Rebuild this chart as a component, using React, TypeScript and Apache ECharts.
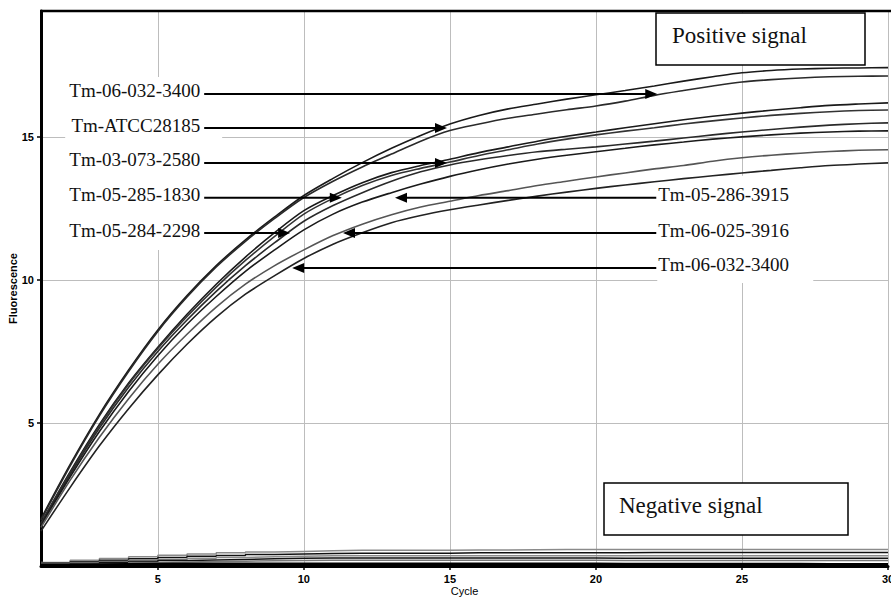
import React, { useEffect, useRef } from 'react';
import * as echarts from 'echarts';

// Cycle numbers (x values)
const cycles = [1, 2, 3, 4, 5, 6, 7, 8, 9, 10, 11, 12, 13, 14, 15, 16, 17, 18, 19, 20, 21, 22, 23, 24, 25, 26, 27, 28, 29, 30];
const xTickValues = [5, 10, 15, 20, 25, 30];
const yTickValues = [5, 10, 15];

// Positive signal curves (fluorescence per cycle)
const posA = [1.65, 3.55, 5.3, 6.85, 8.25, 9.45, 10.5, 11.4, 12.2, 12.95, 13.55, 14.1, 14.6, 15.05, 15.45, 15.75, 15.98, 16.15, 16.32, 16.47, 16.62, 16.78, 16.95, 17.1, 17.24, 17.32, 17.37, 17.4, 17.41, 17.42];
const posB = [1.6, 3.5, 5.25, 6.8, 8.2, 9.4, 10.45, 11.35, 12.15, 12.88, 13.45, 13.95, 14.4, 14.85, 15.22, 15.45, 15.65, 15.8, 15.95, 16.08, 16.25, 16.45, 16.62, 16.78, 16.92, 17.0, 17.06, 17.1, 17.12, 17.13];
const posC = [1.5, 3.3, 4.95, 6.4, 7.65, 8.8, 9.85, 10.8, 11.65, 12.42, 12.95, 13.4, 13.75, 14.0, 14.22, 14.45, 14.65, 14.85, 15.02, 15.17, 15.32, 15.46, 15.6, 15.72, 15.83, 15.93, 16.02, 16.1, 16.15, 16.19];
const posD = [1.48, 3.25, 4.9, 6.35, 7.6, 8.72, 9.75, 10.68, 11.52, 12.3, 12.85, 13.3, 13.65, 13.9, 14.12, 14.35, 14.55, 14.75, 14.92, 15.07, 15.2, 15.32, 15.45, 15.56, 15.66, 15.75, 15.82, 15.88, 15.92, 15.94];
const posE = [1.45, 3.2, 4.82, 6.25, 7.5, 8.6, 9.6, 10.5, 11.3, 12.05, 12.6, 13.05, 13.45, 13.78, 14.02, 14.2, 14.35, 14.48, 14.57, 14.65, 14.75, 14.85, 14.96, 15.07, 15.17, 15.26, 15.34, 15.41, 15.46, 15.49];
const posF = [1.42, 3.12, 4.7, 6.1, 7.35, 8.45, 9.42, 10.3, 11.05, 11.75, 12.3, 12.72, 13.05, 13.35, 13.62, 13.85, 14.05, 14.22, 14.36, 14.48, 14.6, 14.72, 14.82, 14.92, 15.0, 15.07, 15.13, 15.17, 15.2, 15.21];
const posG = [1.35, 3.0, 4.5, 5.85, 7.05, 8.1, 9.05, 9.85, 10.5, 11.05, 11.55, 11.95, 12.28, 12.55, 12.75, 12.95, 13.12, 13.3, 13.45, 13.6, 13.74, 13.88, 14.0, 14.15, 14.27, 14.36, 14.43, 14.49, 14.53, 14.55];
const posH = [1.22, 2.75, 4.2, 5.5, 6.68, 7.75, 8.7, 9.5, 10.15, 10.75, 11.25, 11.65, 12.0, 12.25, 12.45, 12.62, 12.78, 12.93, 13.07, 13.2, 13.32, 13.43, 13.54, 13.64, 13.74, 13.83, 13.92, 14.0, 14.05, 14.09];

// Negative signal curves
const negA = [0.12, 0.2, 0.26, 0.32, 0.38, 0.42, 0.46, 0.49, 0.51, 0.53, 0.55, 0.55, 0.55, 0.55, 0.56, 0.56, 0.57, 0.58, 0.58, 0.58, 0.58, 0.58, 0.58, 0.58, 0.58, 0.58, 0.58, 0.58, 0.58, 0.58];
const negB = [0.1, 0.15, 0.2, 0.25, 0.3, 0.34, 0.37, 0.4, 0.42, 0.44, 0.45, 0.45, 0.45, 0.45, 0.46, 0.46, 0.46, 0.46, 0.46, 0.46, 0.47, 0.47, 0.47, 0.47, 0.47, 0.47, 0.47, 0.47, 0.47, 0.47];
const negC = [0.08, 0.12, 0.16, 0.2, 0.23, 0.27, 0.3, 0.32, 0.34, 0.36, 0.36, 0.36, 0.36, 0.36, 0.36, 0.36, 0.36, 0.36, 0.36, 0.36, 0.36, 0.36, 0.36, 0.36, 0.36, 0.36, 0.36, 0.36, 0.36, 0.36];
const negD = [0.06, 0.09, 0.12, 0.16, 0.19, 0.21, 0.23, 0.25, 0.27, 0.28, 0.28, 0.28, 0.28, 0.28, 0.28, 0.28, 0.28, 0.28, 0.28, 0.27, 0.27, 0.27, 0.27, 0.27, 0.27, 0.27, 0.27, 0.27, 0.27, 0.27];
const negE = [0.05, 0.07, 0.09, 0.12, 0.14, 0.16, 0.17, 0.18, 0.19, 0.2, 0.2, 0.2, 0.2, 0.2, 0.2, 0.2, 0.2, 0.2, 0.2, 0.19, 0.19, 0.19, 0.19, 0.19, 0.19, 0.19, 0.19, 0.19, 0.19, 0.19];
const negF = [0.03, 0.04, 0.05, 0.06, 0.07, 0.07, 0.07, 0.07, 0.07, 0.07, 0.07, 0.07, 0.07, 0.07, 0.07, 0.07, 0.07, 0.07, 0.07, 0.06, 0.06, 0.06, 0.06, 0.06, 0.06, 0.06, 0.05, 0.05, 0.05, 0.05];

const positiveSeries = [posA, posB, posC, posD, posE, posF, posG, posH];
const positiveColors = ['#1a1a1a', '#2a2a2a', '#1a1a1a', '#333333', '#2a2a2a', '#1a1a1a', '#555555', '#222222'];
const negativeSeries = [negA, negB, negC, negD, negE, negF];
const negativeColors = ['#8a8a8a', '#111111', '#8a8a8a', '#111111', '#777777', '#000000'];
const negativeWidths = [1.5, 1.5, 1.5, 1.5, 1.5, 3];

// Annotations: label, arrow y (fluorescence), arrow tip (cycle)
const leftLabels = ['Tm-06-032-3400', 'Tm-ATCC28185', 'Tm-03-073-2580', 'Tm-05-285-1830', 'Tm-05-284-2298'];
const leftArrowY = [16.5, 15.31, 14.09, 12.87, 11.64];
const leftArrowTip = [22.1, 14.9, 14.9, 11.3, 9.53];
const rightLabels = ['Tm-05-286-3915', 'Tm-06-025-3916', 'Tm-06-032-3400'];
const rightArrowY = [12.87, 11.64, 10.42];
const rightArrowTip = [13.12, 11.34, 9.6];
const leftTextEndCycle = 6.45;
const rightTextStartCycle = 22.1;

const SERIF = '"Liberation Serif", "Times New Roman", serif';
const SANS = '"Liberation Sans", Arial, sans-serif';

export default function App() {
  const ref = useRef<HTMLDivElement>(null);

  useEffect(() => {
    document.body.style.margin = '0';
    if (!ref.current) return;
    const chart = echarts.init(ref.current, null, { renderer: 'svg' });

    const series: any[] = [];
    negativeSeries.forEach((vals, i) => {
      series.push({
        type: 'line',
        data: cycles.map((c, k) => [c, vals[k]]),
        showSymbol: false,
        symbol: 'none',
        step: 'end',
        lineStyle: { color: negativeColors[i], width: negativeWidths[i] },
        z: 3,
      });
    });
    positiveSeries.forEach((vals, i) => {
      series.push({
        type: 'line',
        data: cycles.map((c, k) => [c, vals[k]]),
        showSymbol: false,
        symbol: 'none',
        smooth: 0.3,
        lineStyle: { color: positiveColors[i], width: 1.6 },
        z: 3,
      });
    });

    const gridLine = { show: true, lineStyle: { color: '#bdbdbd', width: 1 } };

    chart.setOption({
      animation: false,
      backgroundColor: '#ffffff',
      grid: { left: 41, right: 3, top: 11, bottom: 33, containLabel: false, outerBoundsMode: 'none' },
      xAxis: {
        type: 'value',
        min: 1,
        max: 30,
        name: 'Cycle',
        nameLocation: 'middle',
        nameGap: 19,
        nameMoveOverlap: false,
        nameTextStyle: { fontFamily: SANS, fontSize: 11, color: '#000' },
        axisLine: { show: true, onZero: false, lineStyle: { color: '#000', width: 3 } },
        axisTick: { show: true, customValues: xTickValues, length: 4, lineStyle: { color: '#000', width: 1.5 } },
        axisLabel: { customValues: xTickValues, fontFamily: SANS, fontWeight: 'bold', fontSize: 11, color: '#000', margin: 7 },
        splitLine: gridLine,
      },
      yAxis: {
        type: 'value',
        min: 0,
        max: 19.4,
        name: 'Fluorescence',
        nameLocation: 'middle',
        nameRotate: 90,
        nameGap: 23,
        nameMoveOverlap: false,
        nameTextStyle: { fontFamily: SANS, fontSize: 11, fontWeight: 'bold', color: '#000' },
        axisLine: { show: true, onZero: false, lineStyle: { color: '#000', width: 3 } },
        axisTick: { show: true, customValues: yTickValues, length: 4, lineStyle: { color: '#000', width: 1.5 } },
        axisLabel: { customValues: yTickValues, fontFamily: SANS, fontWeight: 'bold', fontSize: 11, color: '#000', margin: 7 },
        splitLine: gridLine,
      },
      series,
    });

    const px = (x: number, y: number) => chart.convertToPixel({ gridIndex: 0 }, [x, y]) as number[];

    const elements: any[] = [];
    // top border of plot
    const tl = px(1, 19.4);
    elements.push({ type: 'line', z: 20, shape: { x1: tl[0] - 1, y1: tl[1], x2: 891, y2: tl[1] }, style: { stroke: '#000', lineWidth: 2.5 } });

    // white label backgrounds (hide grid lines)
    const lTop = px(leftTextEndCycle, leftArrowY[0]);
    const lBot = px(leftTextEndCycle, leftArrowY[leftArrowY.length - 1]);
    elements.push({ type: 'rect', z: 1, shape: { x: lTop[0] - 135, y: lTop[1] - 17, width: 157, height: lBot[1] - lTop[1] + 34 }, style: { fill: '#fff' } });
    const rTop = px(rightTextStartCycle, rightArrowY[0]);
    const rBot = px(rightTextStartCycle, rightArrowY[rightArrowY.length - 1]);
    elements.push({ type: 'rect', z: 1, shape: { x: rTop[0], y: rTop[1] - 22, width: 156, height: rBot[1] - rTop[1] + 37 }, style: { fill: '#fff' } });

    leftLabels.forEach((lab, i) => {
      const s = px(leftTextEndCycle, leftArrowY[i]);
      const t = px(leftArrowTip[i], leftArrowY[i]);
      elements.push({ type: 'text', z: 20, style: { text: lab, x: s[0], y: s[1] - 3, align: 'right', verticalAlign: 'middle', font: `19px ${SERIF}`, fill: '#111' } });
      elements.push({ type: 'line', z: 20, shape: { x1: s[0] + 4, y1: s[1], x2: t[0] - 8, y2: t[1] }, style: { stroke: '#000', lineWidth: 2 } });
      elements.push({ type: 'polygon', z: 20, shape: { points: [[t[0], t[1]], [t[0] - 12, t[1] - 5], [t[0] - 12, t[1] + 5]] }, style: { fill: '#000' } });
    });
    rightLabels.forEach((lab, i) => {
      const s = px(rightTextStartCycle, rightArrowY[i]);
      const t = px(rightArrowTip[i], rightArrowY[i]);
      elements.push({ type: 'text', z: 20, style: { text: lab, x: s[0] + 1, y: s[1] - 3, align: 'left', verticalAlign: 'middle', font: `19px ${SERIF}`, fill: '#111' } });
      elements.push({ type: 'line', z: 20, shape: { x1: s[0] - 1, y1: s[1], x2: t[0] + 8, y2: t[1] }, style: { stroke: '#000', lineWidth: 2 } });
      elements.push({ type: 'polygon', z: 20, shape: { points: [[t[0], t[1]], [t[0] + 12, t[1] - 5], [t[0] + 12, t[1] + 5]] }, style: { fill: '#000' } });
    });

    // Signal boxes
    elements.push({ type: 'rect', z: 20, shape: { x: 656, y: 13, width: 209, height: 52 }, style: { fill: '#fff', stroke: '#000', lineWidth: 1.5 } });
    elements.push({ type: 'text', z: 21, style: { text: 'Positive signal', x: 672, y: 35, align: 'left', verticalAlign: 'middle', font: `23px ${SERIF}`, fill: '#111' } });
    elements.push({ type: 'rect', z: 20, shape: { x: 604, y: 483, width: 244, height: 52 }, style: { fill: '#fff', stroke: '#000', lineWidth: 1.5 } });
    elements.push({ type: 'text', z: 21, style: { text: 'Negative signal', x: 619, y: 505, align: 'left', verticalAlign: 'middle', font: `23px ${SERIF}`, fill: '#111' } });

    chart.setOption({ graphic: { elements } });

    return () => chart.dispose();
  }, []);

  return <div ref={ref} style={{ width: 891, height: 599 }} />;
}
